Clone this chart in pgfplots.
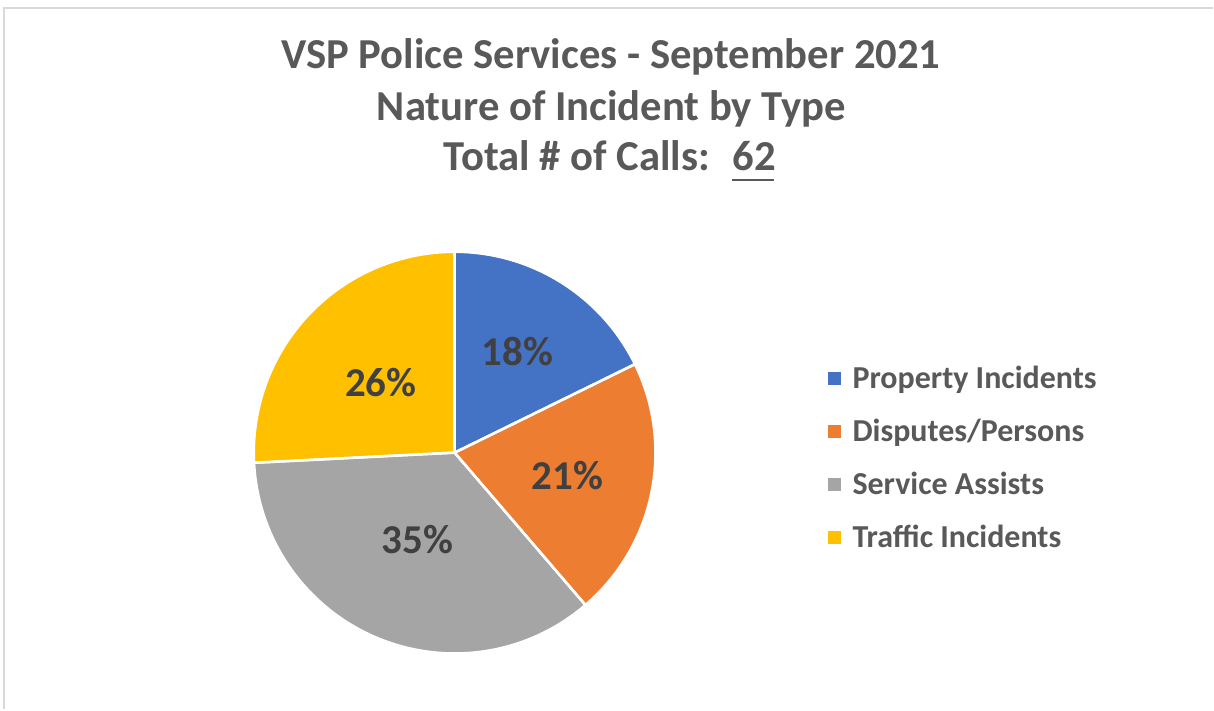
\documentclass[border=0pt]{standalone}
\usepackage{pgfplots}
\pgfplotsset{compat=1.18}
\usepackage{pgfplotstable}
\usepackage{fontspec}
\setmainfont{Carlito}
\definecolor{cA}{HTML}{4472C4}
\definecolor{cB}{HTML}{ED7D31}
\definecolor{cC}{HTML}{A5A5A5}
\definecolor{cD}{HTML}{FFC000}
\definecolor{txt}{HTML}{595959}
\definecolor{lbl}{HTML}{404040}
\definecolor{frm}{HTML}{D9D9D9}

\pgfplotstableread{
name count
Property 11
Disputes 13
Service 22
Traffic 16
}\piedata

\begin{document}
\begin{tikzpicture}
\pgfplotstablegetelem{0}{count}\of\piedata \let\vA\pgfplotsretval
\pgfplotstablegetelem{1}{count}\of\piedata \let\vB\pgfplotsretval
\pgfplotstablegetelem{2}{count}\of\piedata \let\vC\pgfplotsretval
\pgfplotstablegetelem{3}{count}\of\piedata \let\vD\pgfplotsretval
\pgfmathsetmacro\tot{\vA+\vB+\vC+\vD}
\pgfmathsetmacro\aA{90}
\pgfmathsetmacro\aB{\aA-360*\vA/\tot}
\pgfmathsetmacro\aC{\aB-360*\vB/\tot}
\pgfmathsetmacro\aD{\aC-360*\vC/\tot}
\pgfmathsetmacro\aE{\aD-360*\vD/\tot}
\pgfmathsetmacro\mA{(\aA+\aB)/2}
\pgfmathsetmacro\mB{(\aB+\aC)/2}
\pgfmathsetmacro\mC{(\aC+\aD)/2}
\pgfmathsetmacro\mD{(\aD+\aE)/2}
\pgfmathtruncatemacro\pA{round(100*\vA/\tot)}
\pgfmathtruncatemacro\pB{round(100*\vB/\tot)}
\pgfmathtruncatemacro\pC{round(100*\vC/\tot)}
\pgfmathtruncatemacro\pD{round(100*\vD/\tot)}
\begin{axis}[scale only axis, width=1214pt, height=710pt,
  xmin=0, xmax=1214, ymin=0, ymax=710, y dir=reverse,
  hide axis, clip=false]
\fill[white] (axis cs:0,0) rectangle (axis cs:1214,710);
\draw[frm, line width=2pt] (axis cs:4,710) -- (axis cs:4,8) -- (axis cs:1214,8);
% wedges
\fill[cA] (axis cs:455,453) -- ++(\aA:201pt) arc[start angle=\aA, end angle=\aB, radius=201pt] -- cycle;
\fill[cB] (axis cs:455,453) -- ++(\aB:201pt) arc[start angle=\aB, end angle=\aC, radius=201pt] -- cycle;
\fill[cC] (axis cs:455,453) -- ++(\aC:201pt) arc[start angle=\aC, end angle=\aD, radius=201pt] -- cycle;
\fill[cD] (axis cs:455,453) -- ++(\aD:201pt) arc[start angle=\aD, end angle=\aE, radius=201pt] -- cycle;
\draw[white, line width=2.5pt, line join=round] (axis cs:455,453) -- ++(\aA:201pt) arc[start angle=\aA, end angle=\aB, radius=201pt] -- cycle;
\draw[white, line width=2.5pt, line join=round] (axis cs:455,453) -- ++(\aB:201pt) arc[start angle=\aB, end angle=\aC, radius=201pt] -- cycle;
\draw[white, line width=2.5pt, line join=round] (axis cs:455,453) -- ++(\aC:201pt) arc[start angle=\aC, end angle=\aD, radius=201pt] -- cycle;
\draw[white, line width=2.5pt, line join=round] (axis cs:455,453) -- ++(\aD:201pt) arc[start angle=\aD, end angle=\aE, radius=201pt] -- cycle;
% data labels
\path (axis cs:455,453) ++(\mA:119pt) node[text=lbl, font=\fontsize{41}{48}\selectfont\bfseries] {\pA\%};
\path (axis cs:455,453) ++(\mB:115pt) node[text=lbl, font=\fontsize{41}{48}\selectfont\bfseries] {\pB\%};
\path (axis cs:455,453) ++(\mC:95pt) node[text=lbl, font=\fontsize{41}{48}\selectfont\bfseries] {\pC\%};
\path (axis cs:455,453) ++(\mD:102pt) node[text=lbl, font=\fontsize{41}{48}\selectfont\bfseries] {\pD\%};
% title
\node[anchor=base, text=txt, font=\fontsize{42.7}{50}\selectfont\bfseries] at (axis cs:611.5,69) {VSP Police Services - September 2021};
\node[anchor=base, text=txt, font=\fontsize{42.7}{50}\selectfont\bfseries] at (axis cs:612,121) {Nature of Incident by Type};
\node[anchor=base west, inner sep=0pt, text=txt, font=\fontsize{42.7}{50}\selectfont\bfseries] at (axis cs:444,171) {Total \# of Calls:};
\node[anchor=base west, inner sep=0pt, text=txt, font=\fontsize{42.7}{50}\selectfont\bfseries] at (axis cs:733,171) {62};
\draw[txt, line width=2.4pt] (axis cs:733,180) -- (axis cs:775,180);
% legend
\fill[cA] (axis cs:829,372.5) rectangle (axis cs:842,385.5);
\fill[cB] (axis cs:829,425.5) rectangle (axis cs:842,438.5);
\fill[cC] (axis cs:829,478.5) rectangle (axis cs:842,491.5);
\fill[cD] (axis cs:829,531.5) rectangle (axis cs:842,544.5);
\node[anchor=base west, inner sep=0pt, text=txt, font=\fontsize{32}{38}\selectfont\bfseries] at (axis cs:853,389) {Property Incidents};
\node[anchor=base west, inner sep=0pt, text=txt, font=\fontsize{32}{38}\selectfont\bfseries] at (axis cs:853,442) {Disputes/Persons};
\node[anchor=base west, inner sep=0pt, text=txt, font=\fontsize{32}{38}\selectfont\bfseries] at (axis cs:853,495) {Service Assists};
\node[anchor=base west, inner sep=0pt, text=txt, font=\fontsize{32}{38}\selectfont\bfseries] at (axis cs:853,548) {Traffic Incidents};
\end{axis}
\end{tikzpicture}
\end{document}
